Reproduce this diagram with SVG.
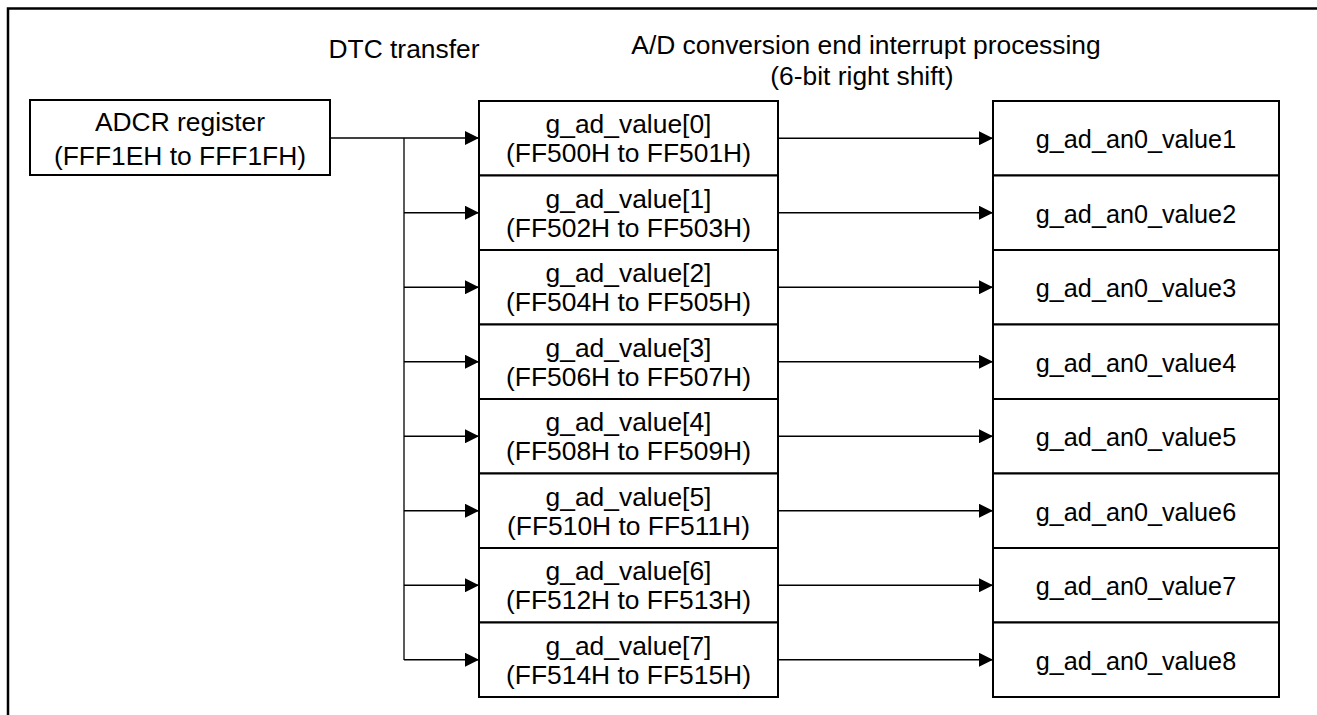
<svg xmlns="http://www.w3.org/2000/svg" width="1317" height="715" viewBox="0 0 1317 715">
<style>
text{font-family:"Liberation Sans",Arial,sans-serif;font-size:26.4px;fill:#000;text-anchor:middle}
text.r{font-size:25.2px}
.box{fill:#fff;stroke:#000;stroke-width:2}
.conn{stroke:#000;stroke-width:1.3;fill:none}
.frame{stroke:#000;stroke-width:2.5;fill:none}
</style>
<defs>
<marker id="arr" markerUnits="userSpaceOnUse" markerWidth="14" markerHeight="14" refX="14" refY="7" orient="auto">
<path d="M0,0 L14,7 L0,14 z" fill="#000"/>
</marker>
</defs>
<path class="frame" d="M8,715 L8,8.5 L1317,8.5"/>
<text x="404" y="58">DTC transfer</text>
<text x="866" y="54">A/D conversion end interrupt processing</text>
<text x="862" y="85">(6-bit right shift)</text>
<g id="connectors">
<path class="conn" d="M330,138 L479,138" marker-end="url(#arr)"/>
<path class="conn" d="M404,138 L404,660"/>
<path class="conn" d="M404,212.75 L479,212.75" marker-end="url(#arr)"/>
<path class="conn" d="M404,287.25 L479,287.25" marker-end="url(#arr)"/>
<path class="conn" d="M404,361.75 L479,361.75" marker-end="url(#arr)"/>
<path class="conn" d="M404,436.25 L479,436.25" marker-end="url(#arr)"/>
<path class="conn" d="M404,510.75 L479,510.75" marker-end="url(#arr)"/>
<path class="conn" d="M404,585.25 L479,585.25" marker-end="url(#arr)"/>
<path class="conn" d="M404,659.75 L479,659.75" marker-end="url(#arr)"/>
<path class="conn" d="M778,138.25 L993,138.25" marker-end="url(#arr)"/>
<path class="conn" d="M778,212.75 L993,212.75" marker-end="url(#arr)"/>
<path class="conn" d="M778,287.25 L993,287.25" marker-end="url(#arr)"/>
<path class="conn" d="M778,361.75 L993,361.75" marker-end="url(#arr)"/>
<path class="conn" d="M778,436.25 L993,436.25" marker-end="url(#arr)"/>
<path class="conn" d="M778,510.75 L993,510.75" marker-end="url(#arr)"/>
<path class="conn" d="M778,585.25 L993,585.25" marker-end="url(#arr)"/>
<path class="conn" d="M778,659.75 L993,659.75" marker-end="url(#arr)"/>
</g>
<g id="adcr">
<rect class="box" x="30" y="100" width="300" height="75"/>
<text x="180" y="131">ADCR register</text>
<text x="180" y="165">(FFF1EH to FFF1FH)</text>
</g>
<g id="v0"><rect class="box" x="479" y="101" width="299" height="74.5"/><text x="628.5" y="133">g_ad_value[0]</text><text x="628.5" y="162">(FF500H to FF501H)</text></g>
<g id="v1"><rect class="box" x="479" y="175.5" width="299" height="74.5"/><text x="628.5" y="207.5">g_ad_value[1]</text><text x="628.5" y="236.5">(FF502H to FF503H)</text></g>
<g id="v2"><rect class="box" x="479" y="250" width="299" height="74.5"/><text x="628.5" y="282">g_ad_value[2]</text><text x="628.5" y="311">(FF504H to FF505H)</text></g>
<g id="v3"><rect class="box" x="479" y="324.5" width="299" height="74.5"/><text x="628.5" y="356.5">g_ad_value[3]</text><text x="628.5" y="385.5">(FF506H to FF507H)</text></g>
<g id="v4"><rect class="box" x="479" y="399" width="299" height="74.5"/><text x="628.5" y="431">g_ad_value[4]</text><text x="628.5" y="460">(FF508H to FF509H)</text></g>
<g id="v5"><rect class="box" x="479" y="473.5" width="299" height="74.5"/><text x="628.5" y="505.5">g_ad_value[5]</text><text x="628.5" y="534.5">(FF510H to FF511H)</text></g>
<g id="v6"><rect class="box" x="479" y="548" width="299" height="74.5"/><text x="628.5" y="580">g_ad_value[6]</text><text x="628.5" y="609">(FF512H to FF513H)</text></g>
<g id="v7"><rect class="box" x="479" y="622.5" width="299" height="74.5"/><text x="628.5" y="654.5">g_ad_value[7]</text><text x="628.5" y="683.5">(FF514H to FF515H)</text></g>
<g id="a1"><rect class="box" x="993" y="101" width="286" height="74.5"/><text class="r" x="1136" y="148">g_ad_an0_value1</text></g>
<g id="a2"><rect class="box" x="993" y="175.5" width="286" height="74.5"/><text class="r" x="1136" y="222.5">g_ad_an0_value2</text></g>
<g id="a3"><rect class="box" x="993" y="250" width="286" height="74.5"/><text class="r" x="1136" y="297">g_ad_an0_value3</text></g>
<g id="a4"><rect class="box" x="993" y="324.5" width="286" height="74.5"/><text class="r" x="1136" y="371.5">g_ad_an0_value4</text></g>
<g id="a5"><rect class="box" x="993" y="399" width="286" height="74.5"/><text class="r" x="1136" y="446">g_ad_an0_value5</text></g>
<g id="a6"><rect class="box" x="993" y="473.5" width="286" height="74.5"/><text class="r" x="1136" y="520.5">g_ad_an0_value6</text></g>
<g id="a7"><rect class="box" x="993" y="548" width="286" height="74.5"/><text class="r" x="1136" y="595">g_ad_an0_value7</text></g>
<g id="a8"><rect class="box" x="993" y="622.5" width="286" height="74.5"/><text class="r" x="1136" y="669.5">g_ad_an0_value8</text></g>
</svg>
